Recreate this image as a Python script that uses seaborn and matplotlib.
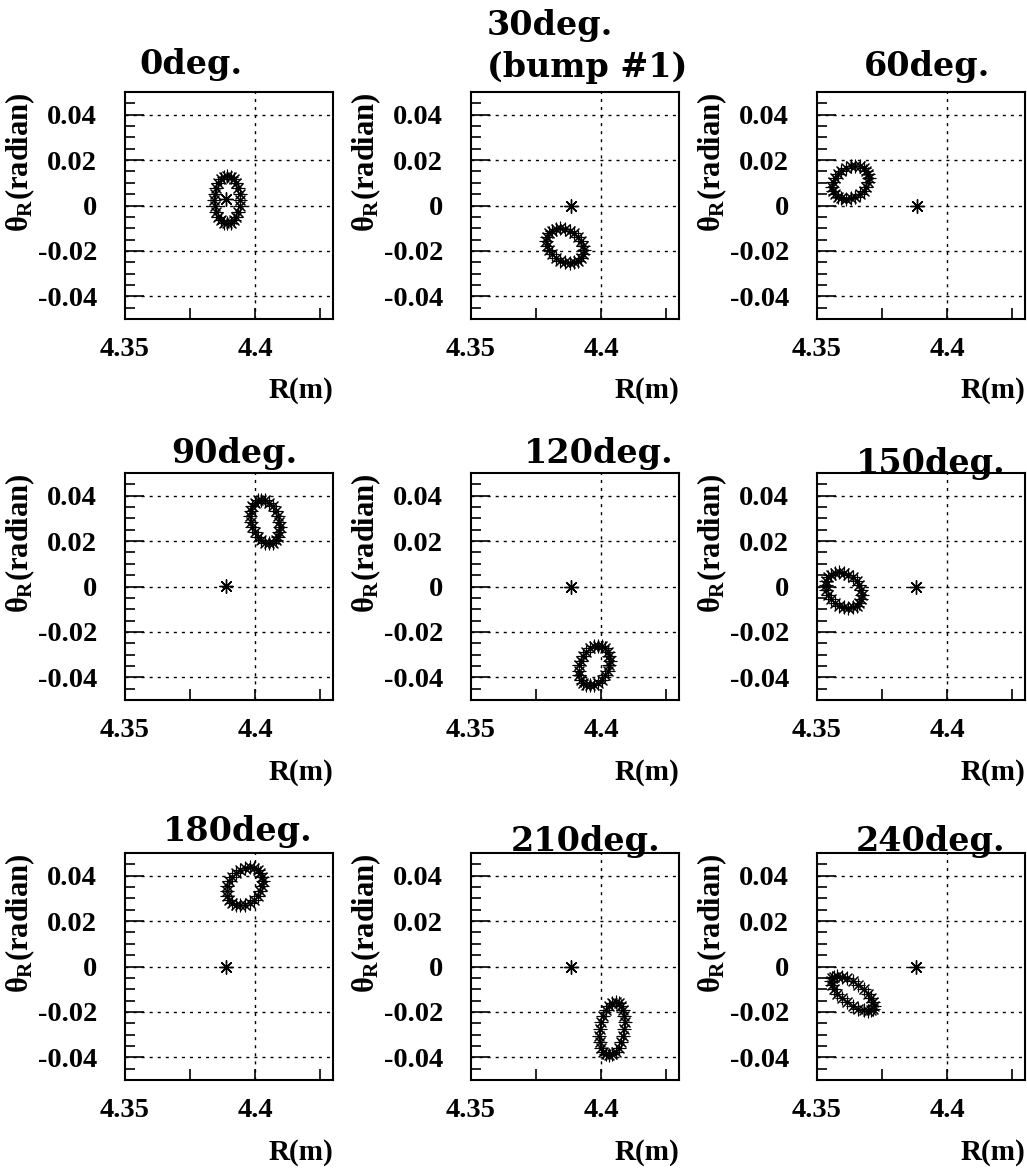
import matplotlib
matplotlib.use("Agg")
import matplotlib.pyplot as plt
import seaborn as sns
import pandas as pd

# ---------------- data ----------------
titles = ["0deg.", ["30deg.", "(bump #1)"], "60deg.",
          "90deg.", "120deg.", "150deg.",
          "180deg.", "210deg.", "240deg."]

R_000 = [4.3943, 4.3941, 4.3936, 4.3928, 4.3918, 4.3906, 4.3893, 4.3880, 4.3868, 4.3858, 4.3850, 4.3845,
         4.3843, 4.3845, 4.3850, 4.3858, 4.3868, 4.3880, 4.3893, 4.3906, 4.3918, 4.3928, 4.3936, 4.3941]
TH_000 = [0.0025, 0.0052, 0.0077, 0.0099, 0.0115, 0.0126, 0.0129, 0.0126, 0.0115, 0.0099, 0.0077, 0.0052,
          0.0025, -0.0002, -0.0027, -0.0049, -0.0065, -0.0076, -0.0079, -0.0076, -0.0065, -0.0049, -0.0027, -0.0002]

R_030 = [4.3933, 4.3931, 4.3923, 4.3912, 4.3897, 4.3880, 4.3861, 4.3842, 4.3825, 4.3810, 4.3799, 4.3791,
         4.3789, 4.3791, 4.3799, 4.3810, 4.3825, 4.3842, 4.3861, 4.3880, 4.3897, 4.3912, 4.3923, 4.3931]
TH_030 = [-0.0197, -0.0177, -0.0157, -0.0139, -0.0123, -0.0111, -0.0104, -0.0101, -0.0104, -0.0111, -0.0123, -0.0139,
          -0.0157, -0.0177, -0.0197, -0.0215, -0.0231, -0.0243, -0.0250, -0.0253, -0.0250, -0.0243, -0.0231, -0.0215]

R_060 = [4.3699, 4.3697, 4.3690, 4.3679, 4.3664, 4.3647, 4.3629, 4.3611, 4.3594, 4.3580, 4.3568, 4.3561,
         4.3559, 4.3561, 4.3568, 4.3580, 4.3594, 4.3611, 4.3629, 4.3647, 4.3664, 4.3679, 4.3690, 4.3697]
TH_060 = [0.0121, 0.0139, 0.0154, 0.0166, 0.0174, 0.0176, 0.0174, 0.0166, 0.0154, 0.0139, 0.0121, 0.0102,
          0.0083, 0.0065, 0.0050, 0.0038, 0.0031, 0.0028, 0.0031, 0.0038, 0.0050, 0.0065, 0.0083, 0.0102]

R_090 = [4.4096, 4.4094, 4.4088, 4.4079, 4.4068, 4.4054, 4.4039, 4.4024, 4.4011, 4.3999, 4.3990, 4.3984,
         4.3982, 4.3984, 4.3990, 4.3999, 4.4011, 4.4024, 4.4039, 4.4054, 4.4068, 4.4079, 4.4088, 4.4094]
TH_090 = [0.0261, 0.0286, 0.0311, 0.0334, 0.0354, 0.0369, 0.0379, 0.0382, 0.0379, 0.0369, 0.0354, 0.0334,
          0.0311, 0.0286, 0.0261, 0.0238, 0.0218, 0.0203, 0.0193, 0.0190, 0.0193, 0.0203, 0.0218, 0.0238]

R_120 = [4.4034, 4.4032, 4.4026, 4.4016, 4.4004, 4.3990, 4.3974, 4.3958, 4.3944, 4.3932, 4.3922, 4.3916,
         4.3914, 4.3916, 4.3922, 4.3932, 4.3944, 4.3958, 4.3974, 4.3990, 4.4004, 4.4016, 4.4026, 4.4032]
TH_120 = [-0.0326, -0.0305, -0.0287, -0.0273, -0.0264, -0.0261, -0.0264, -0.0273, -0.0287, -0.0305, -0.0326, -0.0348,
          -0.0371, -0.0392, -0.0410, -0.0423, -0.0432, -0.0435, -0.0432, -0.0423, -0.0410, -0.0392, -0.0371, -0.0348]

R_150 = [4.3672, 4.3670, 4.3663, 4.3652, 4.3638, 4.3621, 4.3603, 4.3585, 4.3568, 4.3554, 4.3543, 4.3536,
         4.3534, 4.3536, 4.3543, 4.3554, 4.3568, 4.3585, 4.3603, 4.3621, 4.3638, 4.3652, 4.3663, 4.3670]
TH_150 = [-0.0037, -0.0016, 0.0005, 0.0024, 0.0040, 0.0052, 0.0060, 0.0063, 0.0060, 0.0052, 0.0040, 0.0024,
          0.0005, -0.0016, -0.0037, -0.0056, -0.0072, -0.0084, -0.0092, -0.0095, -0.0092, -0.0084, -0.0072, -0.0056]

R_180 = [4.4030, 4.4028, 4.4021, 4.4010, 4.3996, 4.3979, 4.3961, 4.3943, 4.3926, 4.3912, 4.3901, 4.3894,
         4.3892, 4.3894, 4.3901, 4.3912, 4.3926, 4.3943, 4.3961, 4.3979, 4.3996, 4.4010, 4.4021, 4.4028]
TH_180 = [0.0376, 0.0396, 0.0413, 0.0427, 0.0435, 0.0438, 0.0435, 0.0427, 0.0413, 0.0396, 0.0376, 0.0354,
          0.0332, 0.0312, 0.0295, 0.0281, 0.0273, 0.0270, 0.0273, 0.0281, 0.0295, 0.0312, 0.0332, 0.0354]

R_210 = [4.4092, 4.4090, 4.4085, 4.4078, 4.4068, 4.4056, 4.4043, 4.4030, 4.4019, 4.4008, 4.4001, 4.3996,
         4.3994, 4.3996, 4.4001, 4.4008, 4.4019, 4.4030, 4.4043, 4.4056, 4.4068, 4.4078, 4.4085, 4.4090]
TH_210 = [-0.0244, -0.0216, -0.0191, -0.0173, -0.0161, -0.0157, -0.0161, -0.0173, -0.0191, -0.0216, -0.0244, -0.0274,
          -0.0304, -0.0333, -0.0357, -0.0375, -0.0387, -0.0391, -0.0387, -0.0375, -0.0357, -0.0333, -0.0304, -0.0274]

R_240 = [4.3720, 4.3717, 4.3709, 4.3696, 4.3679, 4.3659, 4.3637, 4.3615, 4.3596, 4.3578, 4.3565, 4.3557,
         4.3554, 4.3557, 4.3565, 4.3578, 4.3596, 4.3615, 4.3637, 4.3659, 4.3679, 4.3696, 4.3709, 4.3717]
TH_240 = [-0.0173, -0.0158, -0.0139, -0.0119, -0.0099, -0.0081, -0.0065, -0.0052, -0.0045, -0.0042, -0.0045, -0.0052,
          -0.0065, -0.0081, -0.0099, -0.0119, -0.0139, -0.0158, -0.0173, -0.0186, -0.0193, -0.0196, -0.0193, -0.0186]

# reference-orbit point ("*") in each panel
ref_R = [4.3888, 4.3885, 4.3883, 4.3890, 4.3883, 4.3882, 4.3890, 4.3886, 4.3880]
ref_TH = [0.0027, -0.0003, 0.0000, 0.0001, -0.0001, 0.0000, 0.0000, -0.0003, 0.0000]

xtick_vals = [4.35, 4.4]
xtick_labels = ["4.35", "4.4"]
xminor_vals = [4.375, 4.425]
ytick_vals = [-0.04, -0.02, 0.0, 0.02, 0.04]
ytick_labels = ["-0.04", "-0.02", "0", "0.02", "0.04"]
yminor_vals = [-0.045, -0.035, -0.03, -0.025, -0.015, -0.01, -0.005, 0.005, 0.01, 0.015,
               0.025, 0.03, 0.035, 0.045]
x_label = "R(m)"
y_label = r"$\theta_{R}$(radian)"

ring_R = [R_000, R_030, R_060, R_090, R_120, R_150, R_180, R_210, R_240]
ring_TH = [TH_000, TH_030, TH_060, TH_090, TH_120, TH_150, TH_180, TH_210, TH_240]

# ---------------- style ----------------
sns.set_theme(style="white")
plt.rcParams.update({
    "font.family": ["Liberation Serif", "DejaVu Serif"],
    "font.weight": "bold",
    "mathtext.fontset": "custom",
    "mathtext.rm": "Liberation Serif:bold",
    "mathtext.it": "Liberation Serif:bold",
    "mathtext.bf": "Liberation Serif:bold",
    "axes.unicode_minus": False,
    "axes.edgecolor": "black",
    "axes.linewidth": 1.5,
    "text.color": "black",
    "axes.labelcolor": "black",
    "xtick.color": "black",
    "ytick.color": "black",
})

W, H = 1027, 1172
fig = plt.figure(figsize=(W / 100, H / 100), dpi=100)
fig.patch.set_facecolor("white")

col_x = [125, 471, 817]
row_top = [92, 473, 853]
pw, ph = 208, 227

# title placement: list of (x_px, baseline_px, ha) per line
title_pos = [[(191, 74, "center")], [(487, 35, "left"), (487, 77, "left")], [(927, 76, "center")],
             [(234, 463, "center")], [(599, 463, "center")], [(931, 473, "center")],
             [(238, 841, "center")], [(586, 851, "center")], [(931, 851, "center")]]

star = (8, 2, 0)

for i in range(9):
    r, c = divmod(i, 3)
    x0 = col_x[c]
    y1 = row_top[r] + ph
    ax = fig.add_axes([x0 / W, 1 - y1 / H, pw / W, ph / H])
    ax.set_facecolor("white")

    ax.set_xlim(4.35, 4.43)
    ax.set_ylim(-0.05, 0.05)

    # grid (dotted)
    for gv in [4.4]:
        ax.axvline(gv, color="black", lw=1.0, ls=(0, (2.2, 3.6)), zorder=1)
    for gv in ytick_vals:
        ax.axhline(gv, color="black", lw=1.0, ls=(0, (2.2, 3.6)), zorder=1)

    df = pd.DataFrame({"R": ring_R[i], "TH": ring_TH[i]})
    sns.scatterplot(data=df, x="R", y="TH", marker=star, s=85, color="black",
                    linewidth=0.8, ax=ax, zorder=3, legend=False)
    sns.scatterplot(x=[ref_R[i]], y=[ref_TH[i]], marker=star, s=95, color="black",
                    linewidth=1.0, ax=ax, zorder=4, legend=False)

    ax.set_xticks(xtick_vals)
    ax.set_xticklabels(xtick_labels)
    ax.set_xticks(xminor_vals, minor=True)
    ax.set_yticks(ytick_vals)
    ax.set_yticklabels(ytick_labels)
    ax.set_yticks(yminor_vals, minor=True)
    ax.tick_params(axis="both", which="both", direction="in", colors="black",
                   top=False, right=False, bottom=True, left=True)
    ax.tick_params(axis="y", which="major", length=14, width=1.2, pad=20, labelsize=20.5)
    ax.tick_params(axis="y", which="minor", length=7, width=1.2)
    ax.tick_params(axis="x", which="major", length=8, width=1.2, pad=13, labelsize=20.5)
    ax.tick_params(axis="x", which="minor", length=8, width=1.2)
    for lab in ax.get_xticklabels() + ax.get_yticklabels():
        lab.set_fontweight("bold")
        lab.set_family(["Liberation Serif"])
        lab.set_color("black")
    ax.set_xlabel("")
    ax.set_ylabel("")
    for sp in ax.spines.values():
        sp.set_visible(True)
        sp.set_color("black")
        sp.set_linewidth(1.5)

    ax.text(1.0, -72 / ph, x_label, transform=ax.transAxes, ha="right", va="center",
            fontsize=21, fontweight="bold", family=["Liberation Serif"], color="black")
    ax.text(-105 / pw, 1.0, y_label, transform=ax.transAxes, ha="center", va="top",
            rotation=90, fontsize=22, fontweight="bold", family=["Liberation Serif"], color="black")

    lines = titles[i] if isinstance(titles[i], list) else [titles[i]]
    for line, (tx, tb, tha) in zip(lines, title_pos[i]):
        fig.text(tx / W, 1 - tb / H, line, ha=tha, va="baseline",
                 fontsize=24, fontweight="bold", family=["DejaVu Serif"], color="black")

fig.savefig("out.png", dpi=100, facecolor="white")
